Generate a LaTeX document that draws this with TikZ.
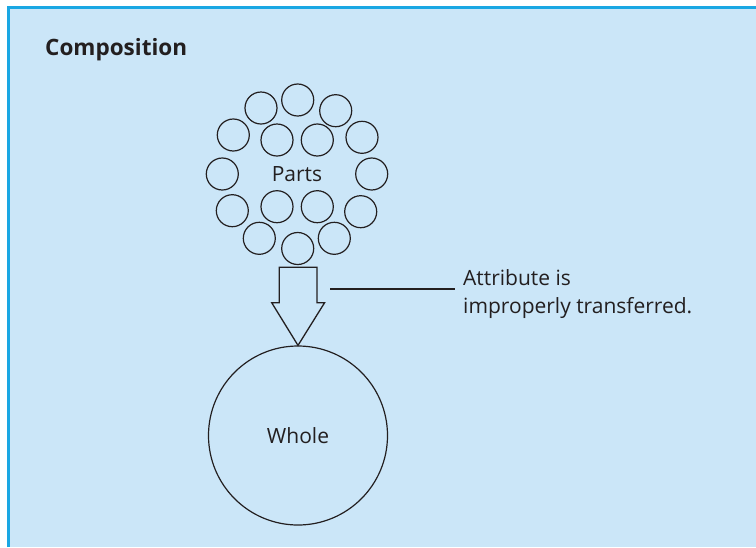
\documentclass[tikz,border=0pt]{standalone}
\usepackage{fontspec}
\setmainfont{Open Sans}
\definecolor{bgfill}{HTML}{CBE6F8}
\definecolor{frame}{HTML}{1AA7E3}
\definecolor{ink}{HTML}{231F20}
\begin{document}
\begin{tikzpicture}[x=1pt,y=-1pt,
  part/.style={circle,draw=ink,line width=1.2pt,minimum size=32pt,inner sep=0pt},
  lbl/.style={text=ink,font=\fontsize{21}{28}\selectfont,inner sep=0pt},
  outline/.style={draw=ink,line width=1.3pt,line join=miter}]
\useasboundingbox (0,0) rectangle (756,547);
\fill[bgfill] (8.5,7.3) rectangle (756,547);
\draw[frame,line width=2.8pt] (8.5,547) -- (8.5,7.3) -- (756,7.3);
\node[anchor=base west,text=ink,inner sep=0pt,font=\fontsize{22.5}{26}\selectfont\bfseries] (title) at (45,55) {Composition};
% parts
\node[part] (p1) at (297.7,100) {};
\node[part] (p2) at (261,108) {};
\node[part] (p3) at (335.7,110.7) {};
\node[part] (p4) at (233.3,135) {};
\node[part] (p5) at (277,140) {};
\node[part] (p6) at (317.3,140) {};
\node[part] (p7) at (362,137.3) {};
\node[part] (p8) at (222.3,174) {};
\node[part] (p9) at (371.7,174) {};
\node[part] (p10) at (232.3,210.7) {};
\node[part] (p11) at (277,206.7) {};
\node[part] (p12) at (317.3,206.7) {};
\node[part] (p13) at (360.7,211.7) {};
\node[part] (p14) at (259.3,238.3) {};
\node[part] (p15) at (334.3,238.3) {};
\node[part] (p16) at (297.7,248.5) {};
\node[lbl] (parts) at (297,174) {Parts};
% whole
\node[circle,draw=ink,line width=1.2pt,minimum size=179pt,inner sep=0pt] (whole) at (298,435.5) {};
\node[lbl] (wholelbl) at (298,436) {Whole};
% block arrow from parts to whole
\draw[outline] (whole.north) -- ++(-26.3,-42.7) -- ++(7.6,0) -- ++(0,-35.5)
  -- ++(37.7,0) -- ++(0,35.5) -- ++(7.6,0) -- cycle;
% annotation
\node[lbl,anchor=base west,align=left] (note) at (463,313) {Attribute is\\improperly transferred.};
\coordinate (leadstart) at (330,289);
\draw[ink,line width=1.2pt] (leadstart) -- (455,289);
\end{tikzpicture}
\end{document}
